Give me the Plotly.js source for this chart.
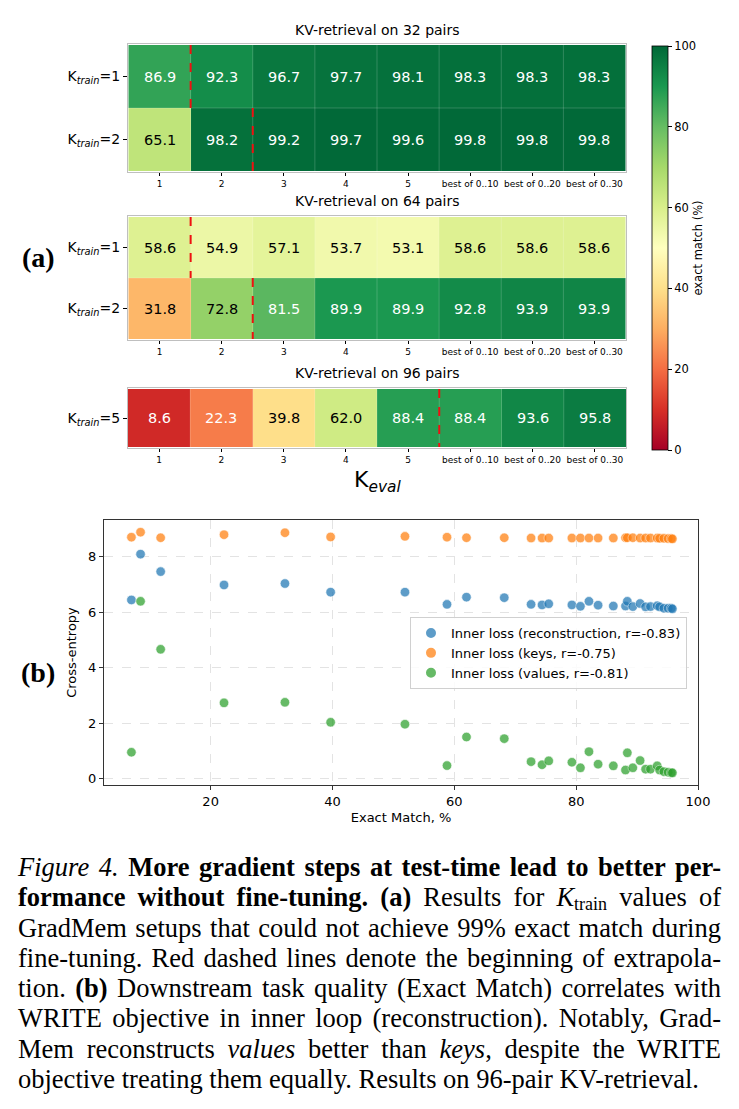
<!DOCTYPE html>
<html>
<head>
<meta charset="utf-8">
<script src="https://cdn.plot.ly/plotly-3.0.1.min.js"></script>
<style>
  html, body { margin: 0; padding: 0; background: #fff; }
  #wrap { position: relative; width: 739px; height: 1109px; overflow: hidden; }
  #chart { position: absolute; left: 0; top: 0; width: 739px; height: 850px; }
  #caption { position: absolute; left: 18px; top: 852px; width: 703px;
    font-family: "Liberation Serif", "DejaVu Serif", serif; font-size: 26.5px; line-height: 30.3px; color: #000; }
  #caption .ln { text-align: justify; text-align-last: justify; white-space: nowrap; }
  #caption .last { text-align: left; text-align-last: left; }
  #caption sub { font-size: 18px; vertical-align: -4px; line-height: 0; }
</style>
</head>
<body>
<div id="wrap">
  <div id="chart"></div>
  <div id="caption">
    <div class="ln"><i>Figure 4.</i> <b>More gradient steps at test-time lead to better per-</b></div>
    <div class="ln"><b>formance without fine-tuning.</b> <b>(a)</b> Results for <i>K</i><sub>train</sub> values of</div>
    <div class="ln">GradMem setups that could not achieve 99% exact match during</div>
    <div class="ln">fine-tuning. Red dashed lines denote the beginning of extrapola-</div>
    <div class="ln">tion. <b>(b)</b> Downstream task quality (Exact Match) correlates with</div>
    <div class="ln">WRITE objective in inner loop (reconstruction). Notably, Grad-</div>
    <div class="ln">Mem reconstructs <i>values</i> better than <i>keys</i>, despite the WRITE</div>
    <div class="ln last">objective treating them equally. Results on 96-pair KV-retrieval.</div>
  </div>
</div>
<script>
// ---------------- DATA ----------------
const kevalLabels = ['1', '2', '3', '4', '5', 'best of 0..10', 'best of 0..20', 'best of 0..30'];

const rows32 = ['K<sub><i>train</i></sub>=1', 'K<sub><i>train</i></sub>=2'];
const em32 = [
  [86.9, 92.3, 96.7, 97.7, 98.1, 98.3, 98.3, 98.3],
  [65.1, 98.2, 99.2, 99.7, 99.6, 99.8, 99.8, 99.8]
];
const extrap32 = [1, 2]; // index of first extrapolated K_eval column per row

const rows64 = ['K<sub><i>train</i></sub>=1', 'K<sub><i>train</i></sub>=2'];
const em64 = [
  [58.6, 54.9, 57.1, 53.7, 53.1, 58.6, 58.6, 58.6],
  [31.8, 72.8, 81.5, 89.9, 89.9, 92.8, 93.9, 93.9]
];
const extrap64 = [1, 2];

const rows96 = ['K<sub><i>train</i></sub>=5'];
const em96 = [
  [8.6, 22.3, 39.8, 62.0, 88.4, 88.4, 93.6, 95.8]
];
const extrap96 = [5];

const panelTitles = ['KV-retrieval on 32 pairs', 'KV-retrieval on 64 pairs', 'KV-retrieval on 96 pairs'];
const colorbarTicks = [0, 20, 40, 60, 80, 100];

// scatter (b)
const exactMatch = [7.0, 8.5, 11.8, 22.2, 32.2, 39.7, 51.9, 58.8, 62.0, 68.2, 72.6, 74.4, 75.5, 79.3, 80.7,
  82.1, 83.6, 86.1, 88.1, 88.4, 89.3, 90.5, 91.4, 92.2, 93.3, 93.7, 94.4, 95.1, 95.6, 95.8];
const lossRecon = [6.44, 8.09, 7.46, 6.98, 7.03, 6.72, 6.72, 6.28, 6.54, 6.52, 6.28, 6.26, 6.30, 6.26, 6.21,
  6.39, 6.25, 6.22, 6.22, 6.39, 6.20, 6.31, 6.19, 6.20, 6.23, 6.19, 6.14, 6.14, 6.14, 6.12];
const lossKeys = [8.70, 8.88, 8.68, 8.79, 8.86, 8.71, 8.73, 8.70, 8.68, 8.68, 8.67, 8.67, 8.67, 8.67, 8.67,
  8.67, 8.67, 8.67, 8.68, 8.68, 8.68, 8.67, 8.67, 8.67, 8.67, 8.66, 8.66, 8.65, 8.65, 8.64];
const lossValues = [0.95, 6.39, 4.66, 2.73, 2.75, 2.03, 1.96, 0.47, 1.50, 1.44, 0.61, 0.50, 0.64, 0.59, 0.39,
  0.97, 0.52, 0.46, 0.31, 0.93, 0.39, 0.65, 0.34, 0.34, 0.46, 0.31, 0.25, 0.23, 0.21, 0.21];
const seriesNames = ['Inner loss (reconstruction, r=-0.83)', 'Inner loss (keys, r=-0.75)', 'Inner loss (values, r=-0.81)'];
const xTicksB = [20, 40, 60, 80, 100];
const yTicksB = [0, 2, 4, 6, 8];

// ---------------- STYLE ----------------
const W = 739, H = 850;
const FONT = 'DejaVu Sans, Liberation Sans, sans-serif';
const RdYlGn = [
  [0.0, '#a50026'], [0.1, '#d73027'], [0.2, '#f46d43'], [0.3, '#fdae61'], [0.4, '#fee08b'],
  [0.5, '#ffffbf'], [0.6, '#d9ef8b'], [0.7, '#a6d96a'], [0.8, '#66bd63'], [0.9, '#1a9850'], [1.0, '#006837']
];
const xd = (a, b) => [a / W, b / W];
const yd = (top, bot) => [1 - bot / H, 1 - top / H];

const hmX0 = 128, hmX1 = 626;
const panels = [
  {rows: rows32, z: em32, ext: extrap32, top: 44, bot: 172, titleY: 30},
  {rows: rows64, z: em64, ext: extrap64, top: 216, bot: 340, titleY: 201},
  {rows: rows96, z: em96, ext: extrap96, top: 388, bot: 448, titleY: 373}
];

const data = [];
const annotations = [];
const shapes = [];
const layout = {
  width: W, height: H,
  margin: {l: 0, r: 0, t: 0, b: 0},
  paper_bgcolor: '#fff', plot_bgcolor: 'rgba(0,0,0,0)',
  font: {family: FONT, color: '#000'},
  showlegend: true
};

panels.forEach((p, i) => {
  const n = i + 1;
  const xa = 'x' + n, ya = 'y' + n;
  const xk = 'xaxis' + n, yk = 'yaxis' + n;
  data.push({
    type: 'heatmap', x: kevalLabels, y: p.rows, z: p.z,
    xaxis: xa, yaxis: ya,
    zmin: 0, zmax: 100, colorscale: RdYlGn,
    showscale: i === 0, showlegend: false, hoverinfo: 'skip',
    colorbar: {
      x: 652 / W, xanchor: 'left', xpad: 0, y: 1 - 46 / H, yanchor: 'top', ypad: 0,
      len: 404 / H, lenmode: 'fraction', thickness: 16, thicknessmode: 'pixels',
      outlinewidth: 0.8, outlinecolor: '#000',
      tickvals: colorbarTicks, ticks: 'outside', ticklen: 4, tickwidth: 1, tickcolor: '#000',
      tickfont: {size: 11.5, family: FONT},
      title: {text: 'exact match (%)', side: 'right', font: {size: 11.5, family: FONT}}
    }
  });
  layout[xk] = {
    domain: xd(hmX0, hmX1), anchor: ya, type: 'category',
    tickfont: {size: 9, family: FONT}, ticks: 'outside', ticklen: 3, tickcolor: '#000',
    showline: true, mirror: true, linecolor: '#bfbfbf', linewidth: 1,
    showgrid: false, zeroline: false, fixedrange: true
  };
  layout[yk] = {
    domain: yd(p.top, p.bot), anchor: xa, type: 'category', autorange: 'reversed',
    tickfont: {size: 14, family: FONT}, ticks: 'outside', ticklen: 4, tickcolor: '#000',
    showline: true, mirror: true, linecolor: '#bfbfbf', linewidth: 1,
    showgrid: false, zeroline: false, fixedrange: true
  };
  // subplot title
  annotations.push({
    xref: 'paper', yref: 'paper', x: ((hmX0 + hmX1) / 2) / W, y: 1 - p.titleY / H,
    xanchor: 'center', yanchor: 'middle', showarrow: false,
    text: panelTitles[i], font: {size: 14, family: FONT}
  });
  // cell values (positioned by category index)
  p.z.forEach((row, r) => {
    row.forEach((v, c) => {
      annotations.push({
        xref: xa, yref: ya, x: c, y: r, showarrow: false,
        text: v.toFixed(1),
        font: {size: 14.5, family: FONT, color: (v > 75 || v < 25) ? '#ffffff' : '#000000'}
      });
    });
  });
  // faint cell separators
  for (let c = 1; c < kevalLabels.length; c++) {
    shapes.push({type: 'line', xref: xa, yref: ya, x0: c - 0.5, x1: c - 0.5, y0: -0.5, y1: p.rows.length - 0.5,
      line: {color: 'rgba(255,255,255,0.18)', width: 1}});
  }
  for (let r = 1; r < p.rows.length; r++) {
    shapes.push({type: 'line', xref: xa, yref: ya, x0: -0.5, x1: kevalLabels.length - 0.5, y0: r - 0.5, y1: r - 0.5,
      line: {color: 'rgba(255,255,255,0.18)', width: 1}});
  }
  // red dashed extrapolation markers
  p.ext.forEach((e, r) => {
    shapes.push({type: 'line', xref: xa, yref: ya, x0: e - 0.5, x1: e - 0.5, y0: r - 0.5, y1: r + 0.5,
      line: {color: '#ee1111', width: 2, dash: 'dash'}});
  });
});

// K_eval label
annotations.push({xref: 'paper', yref: 'paper', x: ((hmX0 + hmX1) / 2) / W, y: 1 - 481 / H,
  xanchor: 'center', yanchor: 'middle', showarrow: false,
  text: 'K<sub><i>eval</i></sub>', font: {size: 22, family: FONT}});
// panel letters
annotations.push({xref: 'paper', yref: 'paper', x: 38 / W, y: 1 - 258 / H, xanchor: 'center', yanchor: 'middle',
  showarrow: false, text: '<b>(a)</b>', font: {size: 28, family: 'Liberation Serif, DejaVu Serif, serif'}});
annotations.push({xref: 'paper', yref: 'paper', x: 38 / W, y: 1 - 672 / H, xanchor: 'center', yanchor: 'middle',
  showarrow: false, text: '<b>(b)</b>', font: {size: 28, family: 'Liberation Serif, DejaVu Serif, serif'}});

// ---------------- SCATTER (b) ----------------
const sColors = ['#1f77b4', '#ff7f0e', '#2ca02c'];
[lossRecon, lossKeys, lossValues].forEach((ys, k) => {
  data.push({
    type: 'scatter', mode: 'markers', x: exactMatch, y: ys, name: seriesNames[k],
    xaxis: 'x4', yaxis: 'y4', hoverinfo: 'skip',
    marker: {color: sColors[k], size: 9.5, opacity: 0.72, line: {color: '#ffffff', width: 0.6}}
  });
});
layout.xaxis4 = {
  domain: xd(104, 698), anchor: 'y4', range: [2.5, 100],
  tickvals: xTicksB, ticks: 'outside', ticklen: 4, tickcolor: '#333', tickfont: {size: 13, family: FONT},
  showline: true, mirror: true, linecolor: '#333', linewidth: 1.2,
  showgrid: true, gridcolor: '#e3e3e3', griddash: 'dash', gridwidth: 1, zeroline: false,
  title: {text: 'Exact Match, %', font: {size: 13, family: FONT}, standoff: 5}, fixedrange: true
};
layout.yaxis4 = {
  domain: yd(520, 785), anchor: 'x4', range: [-0.23, 9.32],
  tickvals: yTicksB, ticks: 'outside', ticklen: 4, tickcolor: '#333', tickfont: {size: 13, family: FONT},
  showline: true, mirror: true, linecolor: '#333', linewidth: 1.2,
  showgrid: true, gridcolor: '#e3e3e3', griddash: 'dash', gridwidth: 1, zeroline: false,
  title: {text: 'Cross-entropy', font: {size: 13, family: FONT}, standoff: 8}, fixedrange: true
};
layout.legend = {
  x: 410 / W, y: 1 - 617 / H, xanchor: 'left', yanchor: 'top',
  bgcolor: 'rgba(255,255,255,0.85)', bordercolor: '#d0d0d0', borderwidth: 1,
  font: {size: 13, family: FONT}, itemsizing: 'constant', tracegroupgap: 0
};
layout.annotations = annotations;
layout.shapes = shapes;

Plotly.newPlot('chart', data, layout, {staticPlot: true, displayModeBar: false});
</script>
</body>
</html>
